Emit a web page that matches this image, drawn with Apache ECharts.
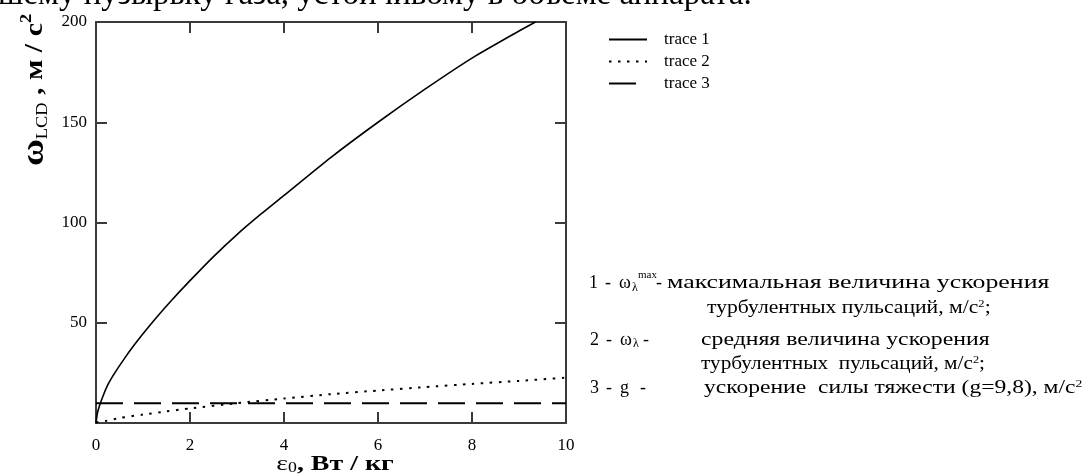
<!DOCTYPE html>
<html><head><meta charset="utf-8">
<script src="https://cdn.jsdelivr.net/npm/echarts@6/dist/echarts.min.js"></script>
<style>html,body{margin:0;padding:0;background:#fff}#c{width:1083px;height:474px}</style>
</head><body><div id="c"></div>
<script>
// ---- data ----
const eps1   = [0, 0.03, 0.08, 0.15, 0.25, 0.4, 0.6, 0.8, 1, 1.3, 1.6, 2, 2.5, 3, 3.5, 4, 5, 6, 7, 8, 9, 9.35];
const trace1 = [0, 5, 9, 13.5, 19, 25, 32, 38.5, 44.5, 53, 61, 71, 83, 94, 104, 113.5, 132.5, 150, 166.5, 182, 195.5, 200];
const eps2   = [0, 0.2, 0.5, 1, 1.5, 2, 3, 4, 5, 6, 7, 8, 9, 10];
const trace2 = [0.3, 1, 2.5, 4.2, 5.8, 7.3, 9.9, 12.2, 14.4, 16.2, 17.9, 19.5, 21, 22.6];
const eps3   = [0, 10];
const trace3 = [9.8, 9.8];
const seriesNames = ['trace 1', 'trace 2', 'trace 3'];
const xTickLabels = [0, 2, 4, 6, 8, 10];
const yTickLabels = [50, 100, 150, 200];

const pairs = (xs, ys) => xs.map((x, i) => [x, ys[i]]);
const SERIF = '"Liberation Serif", "DejaVu Serif", serif';
const AX = '#3a3a3a';

const chart = echarts.init(document.getElementById('c'), null, {renderer: 'canvas'});

const baseX = {
  type: 'value', min: 0, max: 10, interval: 2,
  axisLine: {show: true, onZero: false, lineStyle: {color: AX, width: 2}},
  axisTick: {show: true, inside: true, length: 11, lineStyle: {color: AX, width: 2}},
  splitLine: {show: false}
};
const baseY = {
  type: 'value', min: 0, max: 200, interval: 50,
  axisLine: {show: true, onZero: false, lineStyle: {color: AX, width: 2}},
  axisTick: {show: true, inside: true, length: 11, lineStyle: {color: AX, width: 2}},
  splitLine: {show: false}
};

const RICH = {
  n: {fontFamily: SERIF, fontSize: 19, fill: '#000'},
  m: {fontFamily: SERIF, fontSize: 18, fill: '#000'},
  sub: {fontFamily: SERIF, fontSize: 12, fill: '#000'},
  sup: {fontFamily: SERIF, fontSize: 11, fill: '#000'}
};
function txt(x, y, text, sx) {
  return {type: 'text', x: x, y: y, scaleX: sx, silent: true,
    style: {text: text, verticalAlign: 'middle', fill: '#000', rich: RICH}};
}
function supLine(x, y, text, sx) {
  return {type: 'text', x: x, y: y, scaleX: sx, silent: true,
    style: {text: text, verticalAlign: 'middle', fill: '#000',
      rich: {n: RICH.n, sup: {fontFamily: SERIF, fontSize: 11, fill: '#000', verticalAlign: 'top'}}}};
}

const option = {
  animation: false,
  backgroundColor: '#fff',
  grid: {left: 96, right: 517, top: 22, bottom: 51, containLabel: false, outerBoundsMode: 'none'},
  legend: {
    orient: 'vertical', left: 603, top: 26,
    itemWidth: 38, itemHeight: 14, itemGap: 5,
    itemStyle: {opacity: 0},
    textStyle: {fontFamily: SERIF, fontSize: 17, color: '#000', padding: [0, 0, 0, 12]},
    data: seriesNames
  },
  xAxis: [
    Object.assign({}, baseX, {
      position: 'bottom',
      axisLabel: {show: true, margin: 14, fontFamily: SERIF, fontSize: 17, color: '#000',
        formatter: v => xTickLabels.includes(v) ? String(v) : ''}
    }),
    Object.assign({}, baseX, {position: 'top', axisLabel: {show: false}})
  ],
  yAxis: [
    Object.assign({}, baseY, {
      position: 'left',
      axisLabel: {show: true, margin: 9, fontFamily: SERIF, fontSize: 17, color: '#000',
        formatter: v => yTickLabels.includes(v) ? String(v) : ''}
    }),
    Object.assign({}, baseY, {position: 'right', axisLabel: {show: false}})
  ],
  series: [
    {name: seriesNames[0], type: 'line', data: pairs(eps1, trace1), symbol: 'none',
     smooth: 0.2, clip: true,
     lineStyle: {color: '#000', width: 1.6}, itemStyle: {color: '#000'}},
    {name: seriesNames[1], type: 'line', data: pairs(eps2, trace2), symbol: 'none',
     smooth: 0.2,
     lineStyle: {color: '#000', width: 2, type: [2.5, 6.5]}, itemStyle: {color: '#000'}},
    {name: seriesNames[2], type: 'line', data: pairs(eps3, trace3), symbol: 'none',
     lineStyle: {color: '#000', width: 2, type: [27, 11]}, itemStyle: {color: '#000'}}
  ],
  graphic: [
    // cut-off line of running text at the very top
    {type: 'text', left: -2, top: -21, silent: true,
     style: {text: 'шему пузырьку газа, устойчивому в объеме аппарата.', font: '33px ' + SERIF, fill: '#000'}},
    // rotated y-axis title
    {type: 'text', x: 35, y: 90, rotation: Math.PI / 2, scaleX: 1.15, silent: true,
     style: {text: '{w|ω}{s|LCD}{t| , м / с}{p|2}', align: 'center', verticalAlign: 'middle',
       rich: {
         w: {fontFamily: SERIF, fontSize: 32, fontWeight: 'bold', fill: '#000'},
         s: {fontFamily: SERIF, fontSize: 16, fill: '#000', verticalAlign: 'bottom'},
         t: {fontFamily: SERIF, fontSize: 26, fontWeight: 'bold', fill: '#000'},
         p: {fontFamily: SERIF, fontSize: 16, fontWeight: 'bold', fill: '#000', verticalAlign: 'top'}
       }}},
    // x-axis title
    {type: 'text', x: 335, y: 464, scaleX: 1.27, silent: true,
     style: {text: '{e|ε}{s|0}{t|, Вт / кг}', align: 'center', verticalAlign: 'middle',
       rich: {
         e: {fontFamily: SERIF, fontSize: 22, fill: '#000'},
         s: {fontFamily: SERIF, fontSize: 14, fill: '#000', verticalAlign: 'bottom'},
         t: {fontFamily: SERIF, fontSize: 22, fontWeight: 'bold', fill: '#000'}
       }}},
    // annotation block, row 1
    txt(589, 283, '{m|1}', 1), txt(605, 283, '{m|-}', 1), txt(619, 283, '{m|ω}', 1),
    txt(632, 288, '{sub|λ}', 1), txt(638, 275, '{sup|max}', 1), txt(656, 283, '{m|-}', 1),
    txt(667, 283, '{n|максимальная величина ускорения}', 1.36),
    supLine(707, 308, '{n|турбулентных пульсаций, м/с}{sup|2}{n|;}', 1.14),
    // row 2
    txt(590, 340, '{m|2}', 1), txt(606, 340, '{m|-}', 1), txt(620, 340, '{m|ω}', 1),
    txt(633, 344, '{sub|λ}', 1), txt(643, 340, '{m|-}', 1),
    txt(701, 340, '{n|средняя величина ускорения}', 1.25),
    supLine(701, 364, '{n|турбулентных  пульсаций, м/с}{sup|2}{n|;}', 1.12),
    // row 3
    txt(590, 388, '{m|3}', 1), txt(606, 388, '{m|-}', 1), txt(620, 388, '{m|g}', 1), txt(640, 388, '{m|-}', 1),
    supLine(704, 388, '{n|ускорение  силы тяжести (g=9,8), м/с}{sup|2}', 1.24)
  ]
};
chart.setOption(option);
</script>
</body></html>
